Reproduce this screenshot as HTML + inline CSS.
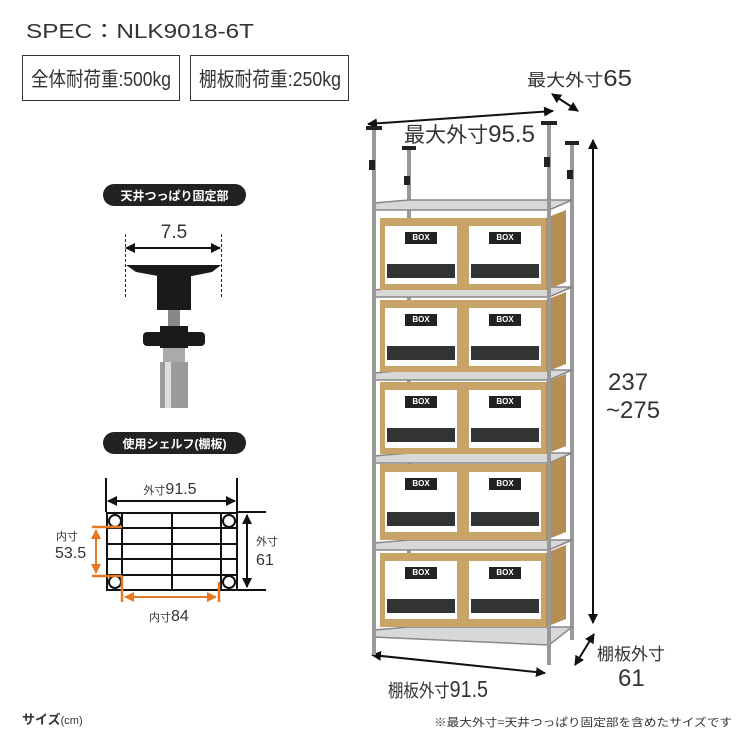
<!DOCTYPE html>
<html><head><meta charset="utf-8"><style>
body{margin:0;background:#fff;}
svg{display:block;font-family:"Liberation Sans","Noto Sans CJK JP",sans-serif;}
</style></head><body>
<svg width="750" height="750" viewBox="0 0 750 750">
<defs>
<marker id="a" viewBox="0 0 10 10" refX="9" refY="5" markerWidth="5" markerHeight="5" orient="auto-start-reverse"><path d="M0,0L10,5L0,10z" fill="#111"/></marker>
<marker id="o" viewBox="0 0 10 10" refX="9" refY="5" markerWidth="5" markerHeight="5" orient="auto-start-reverse"><path d="M0,0L10,5L0,10z" fill="#e87722"/></marker>
</defs>
<text x="26" y="38" font-size="20" fill="#333" textLength="228" lengthAdjust="spacingAndGlyphs">SPEC：NLK9018-6T</text>
<rect x="22.5" y="55.5" width="157" height="45" fill="none" stroke="#333"/>
<text x="31" y="86" font-size="20" fill="#333" textLength="140" lengthAdjust="spacingAndGlyphs">全体耐荷重:500kg</text>
<rect x="190.5" y="55.5" width="158" height="45" fill="none" stroke="#333"/>
<text x="199" y="86" font-size="20" fill="#333" textLength="142" lengthAdjust="spacingAndGlyphs">棚板耐荷重:250kg</text>
<text x="527" y="86" font-size="17" fill="#333" textLength="105" lengthAdjust="spacingAndGlyphs">最大外寸<tspan font-size="23">65</tspan></text>
<line x1="552" y1="94" x2="578" y2="111" stroke="#111" stroke-width="2" marker-start="url(#a)" marker-end="url(#a)"/>
<line x1="368" y1="124" x2="553" y2="111" stroke="#111" stroke-width="2" marker-start="url(#a)" marker-end="url(#a)"/>
<text x="404" y="142" font-size="21" fill="#333" textLength="131" lengthAdjust="spacingAndGlyphs">最大外寸<tspan font-size="24">95.5</tspan></text>
<line x1="593" y1="140" x2="593" y2="623" stroke="#111" stroke-width="2" marker-start="url(#a)" marker-end="url(#a)"/>
<text x="608" y="390" font-size="24" fill="#333">237</text>
<text x="606" y="418" font-size="24" fill="#333">~275</text>
<line x1="575" y1="665" x2="594" y2="634" stroke="#111" stroke-width="2" marker-start="url(#a)" marker-end="url(#a)"/>
<text x="597" y="660" font-size="17" fill="#333">棚板外寸</text>
<text x="618" y="686" font-size="24" fill="#333">61</text>
<line x1="372" y1="655" x2="545" y2="673" stroke="#111" stroke-width="2" marker-start="url(#a)" marker-end="url(#a)"/>
<text x="388" y="697" font-size="18" fill="#333" textLength="100" lengthAdjust="spacingAndGlyphs">棚板外寸<tspan font-size="23">91.5</tspan></text>
<text x="434" y="726" font-size="11" fill="#333" textLength="298" lengthAdjust="spacingAndGlyphs">※最大外寸=天井つっぱり固定部を含めたサイズです</text>
<text x="22" y="724" font-size="13" fill="#333" font-weight="bold">サイズ<tspan font-size="11" font-weight="normal">(cm)</tspan></text>

<g stroke="#999" stroke-width="4">
<line x1="374" y1="130" x2="374" y2="655"/><line x1="549" y1="125" x2="549" y2="665"/>
<line x1="409" y1="150" x2="409" y2="630"/><line x1="572" y1="145" x2="572" y2="640"/>
</g>
<g fill="#222">
<rect x="366" y="126" width="16" height="4"/><rect x="541" y="121" width="16" height="4"/>
<rect x="402" y="146" width="14" height="4"/><rect x="565" y="141" width="14" height="4"/>
<rect x="369" y="160" width="6" height="10"/><rect x="544" y="157" width="6" height="10"/>
<rect x="404" y="176" width="6" height="9"/><rect x="567" y="170" width="6" height="9"/>
</g>
<g fill="#d8d8d8" stroke="#888" stroke-width="1.5">
<path d="M374,203L409,200L572,200L549,210L374,210z"/>
<path d="M374,290L409,287L572,287L549,297L374,297z"/>
<path d="M374,373L409,370L572,370L549,380L374,380z"/>
<path d="M374,456L409,453L572,453L549,463L374,463z"/>
<path d="M374,543L409,540L572,540L549,550L374,550z"/>
<path d="M374,630L409,627L572,627L549,645L374,637z"/>
</g>
<g>
<g transform="translate(380,218)">
<rect width="82" height="72" fill="#c9a468"/><rect x="82" width="84" height="72" fill="#c9a468"/><path d="M166,0L186,-8L186,64L166,72z" fill="#b58e55"/>
<rect x="5" y="8" width="72" height="58" fill="#fff"/><rect x="89" y="8" width="72" height="58" fill="#fff"/>
<rect x="25" y="14" width="32" height="12" fill="#222"/><rect x="109" y="14" width="32" height="12" fill="#222"/>
<rect x="7" y="46" width="68" height="14" fill="#333"/><rect x="91" y="46" width="68" height="14" fill="#333"/>
</g>
<g transform="translate(380,300)">
<rect width="82" height="72" fill="#c9a468"/><rect x="82" width="84" height="72" fill="#c9a468"/><path d="M166,0L186,-8L186,64L166,72z" fill="#b58e55"/>
<rect x="5" y="8" width="72" height="58" fill="#fff"/><rect x="89" y="8" width="72" height="58" fill="#fff"/>
<rect x="25" y="14" width="32" height="12" fill="#222"/><rect x="109" y="14" width="32" height="12" fill="#222"/>
<rect x="7" y="46" width="68" height="14" fill="#333"/><rect x="91" y="46" width="68" height="14" fill="#333"/>
</g>
<g transform="translate(380,382)">
<rect width="82" height="72" fill="#c9a468"/><rect x="82" width="84" height="72" fill="#c9a468"/><path d="M166,0L186,-8L186,64L166,72z" fill="#b58e55"/>
<rect x="5" y="8" width="72" height="58" fill="#fff"/><rect x="89" y="8" width="72" height="58" fill="#fff"/>
<rect x="25" y="14" width="32" height="12" fill="#222"/><rect x="109" y="14" width="32" height="12" fill="#222"/>
<rect x="7" y="46" width="68" height="14" fill="#333"/><rect x="91" y="46" width="68" height="14" fill="#333"/>
</g>
<g transform="translate(380,464)">
<rect width="82" height="76" fill="#c9a468"/><rect x="82" width="84" height="76" fill="#c9a468"/><path d="M166,0L186,-8L186,68L166,76z" fill="#b58e55"/>
<rect x="5" y="8" width="72" height="60" fill="#fff"/><rect x="89" y="8" width="72" height="60" fill="#fff"/>
<rect x="25" y="14" width="32" height="12" fill="#222"/><rect x="109" y="14" width="32" height="12" fill="#222"/>
<rect x="7" y="48" width="68" height="14" fill="#333"/><rect x="91" y="48" width="68" height="14" fill="#333"/>
</g>
<g transform="translate(380,553)">
<rect width="82" height="74" fill="#c9a468"/><rect x="82" width="84" height="74" fill="#c9a468"/><path d="M166,0L186,-8L186,66L166,74z" fill="#b58e55"/>
<rect x="5" y="8" width="72" height="58" fill="#fff"/><rect x="89" y="8" width="72" height="58" fill="#fff"/>
<rect x="25" y="14" width="32" height="12" fill="#222"/><rect x="109" y="14" width="32" height="12" fill="#222"/>
<rect x="7" y="46" width="68" height="14" fill="#333"/><rect x="91" y="46" width="68" height="14" fill="#333"/>
</g>
</g>
<g font-size="8" fill="#fff" font-weight="bold" text-anchor="middle">
<text x="421" y="240">BOX</text><text x="505" y="240">BOX</text>
<text x="421" y="322">BOX</text><text x="505" y="322">BOX</text>
<text x="421" y="404">BOX</text><text x="505" y="404">BOX</text>
<text x="421" y="486">BOX</text><text x="505" y="486">BOX</text>
<text x="421" y="575">BOX</text><text x="505" y="575">BOX</text>
</g>
<g stroke="#999" stroke-width="4"><line x1="374" y1="200" x2="374" y2="655"/><line x1="549" y1="200" x2="549" y2="665"/></g>

<rect x="103" y="184" width="143" height="22" rx="11" fill="#222"/>
<text x="174.5" y="200" font-size="12" fill="#fff" font-weight="bold" text-anchor="middle">天井つっぱり固定部</text>
<text x="174" y="238" font-size="19" fill="#333" text-anchor="middle">7.5</text>
<line x1="126" y1="248" x2="220" y2="248" stroke="#111" stroke-width="2" marker-start="url(#a)" marker-end="url(#a)"/>
<line x1="125.5" y1="234" x2="125.5" y2="298" stroke="#222" stroke-dasharray="3,2"/>
<line x1="221.5" y1="234" x2="221.5" y2="298" stroke="#222" stroke-dasharray="3,2"/>
<path d="M126,265L221,265L212,272L192,276L158,276L136,272z" fill="#1a1a1a"/>
<rect x="157" y="276" width="34" height="34" fill="#1a1a1a"/>
<rect x="168" y="310" width="12" height="22" fill="#888"/>
<rect x="143" y="332" width="62" height="14" rx="4" fill="#1a1a1a"/>
<rect x="160" y="326" width="28" height="22" fill="#1a1a1a"/>
<rect x="163" y="348" width="22" height="16" fill="#aaa"/>
<rect x="160" y="362" width="28" height="46" fill="#9a9a9a"/>
<rect x="165" y="362" width="6" height="46" fill="#ddd"/>

<rect x="103" y="432" width="143" height="22" rx="11" fill="#222"/>
<text x="174.5" y="448" font-size="12" fill="#fff" font-weight="bold" text-anchor="middle">使用シェルフ(棚板)</text>
<text x="170" y="494" font-size="11" fill="#333" text-anchor="middle">外寸<tspan font-size="16">91.5</tspan></text>
<line x1="106" y1="478" x2="106" y2="512" stroke="#111" stroke-width="2"/>
<line x1="237" y1="478" x2="237" y2="512" stroke="#111" stroke-width="2"/>
<line x1="108" y1="501" x2="235" y2="501" stroke="#111" stroke-width="2" marker-start="url(#a)" marker-end="url(#a)"/>
<g stroke="#111" stroke-width="2" fill="none">
<rect x="107" y="513" width="130" height="77"/>
<line x1="122" y1="513" x2="122" y2="590"/><line x1="221" y1="513" x2="221" y2="590"/><line x1="172" y1="513" x2="172" y2="590"/>
<line x1="107" y1="528" x2="237" y2="528"/><line x1="107" y1="544" x2="237" y2="544"/><line x1="107" y1="559" x2="237" y2="559"/><line x1="107" y1="575" x2="237" y2="575"/>
<line x1="237" y1="512" x2="266" y2="512"/><line x1="237" y1="590" x2="266" y2="590"/>
<circle cx="115" cy="521" r="6" fill="#fff"/><circle cx="229" cy="521" r="6" fill="#fff"/><circle cx="115" cy="582" r="6" fill="#fff"/><circle cx="229" cy="582" r="6" fill="#fff"/>
</g>
<line x1="247" y1="515" x2="247" y2="587" stroke="#111" stroke-width="2" marker-start="url(#a)" marker-end="url(#a)"/>
<text x="256" y="545" font-size="11" fill="#333">外寸</text>
<text x="256" y="565" font-size="16" fill="#333">61</text>
<g stroke="#e87722" stroke-width="2.5"><line x1="92" y1="527" x2="122" y2="527"/><line x1="92" y1="576" x2="122" y2="576"/><line x1="122" y1="576" x2="122" y2="602"/><line x1="219" y1="582" x2="219" y2="602"/></g>
<line x1="96" y1="530" x2="96" y2="573" stroke="#e87722" stroke-width="2" marker-start="url(#o)" marker-end="url(#o)"/>
<line x1="125" y1="597" x2="216" y2="597" stroke="#e87722" stroke-width="2" marker-start="url(#o)" marker-end="url(#o)"/>
<text x="56" y="540" font-size="11" fill="#333">内寸</text>
<text x="55" y="558" font-size="16" fill="#333">53.5</text>
<text x="149" y="621" font-size="11" fill="#333">内寸<tspan font-size="16">84</tspan></text>
</svg>
</body></html>
